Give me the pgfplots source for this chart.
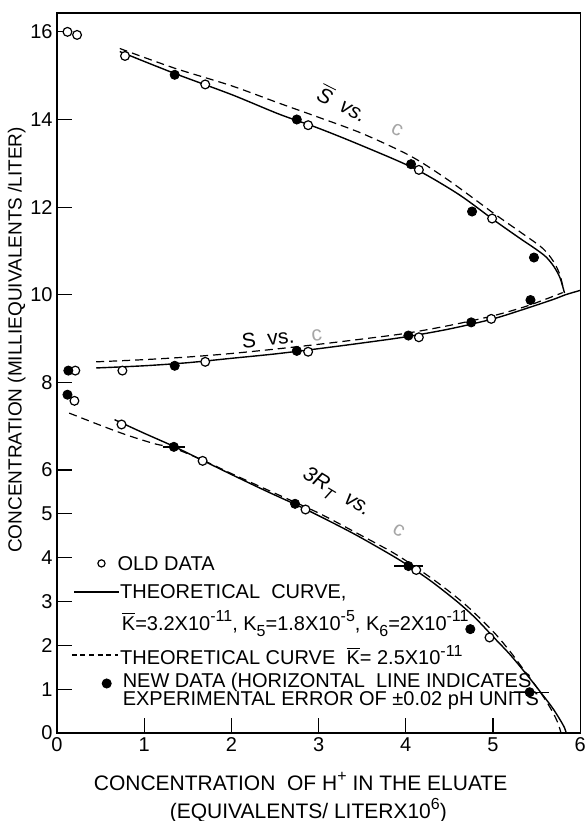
\documentclass[border=0pt]{standalone}
\usepackage{fontspec}
\setmainfont{Liberation Sans}
\usepackage{pgfplots}
\pgfplotsset{compat=1.18}
\newcommand{\Kb}{\ensuremath{\overline{\mbox{K}}}}
\newcommand{\Sb}{\ensuremath{\overline{\mbox{\itshape S}}}}
\newcommand{\up}[1]{\raisebox{0.8ex}{\fontsize{8}{8}\selectfont #1}}
\newcommand{\dn}[1]{\raisebox{-0.55ex}{\fontsize{8}{8}\selectfont #1}}
\begin{document}
\begin{tikzpicture}
\useasboundingbox (-28.5pt,-44pt) rectangle (265.5pt,366.5pt);
\begin{axis}[
  scale only axis, width=261.6pt, height=360pt,
  xmin=0, xmax=6, ymin=0, ymax=16.43,
  xtick={0,1,2,3,4,5,6}, ytick={0,1,2,3,4,5,6,8,10,12,14,16},
  tick align=inside, xtick pos=bottom, ytick pos=left,
  major tick length=7.5pt,
  axis line style={line width=0.6pt},
  tick style={line width=0.6pt, black},
  ticklabel style={font=\fontsize{10}{12}\selectfont},
  /pgf/number format/assume math mode=true,
  yticklabel style={inner sep=1pt, xshift=-1pt},
  xticklabel style={inner sep=1pt, yshift=-1pt},
  xlabel={CONCENTRATION \ OF H\up{+} IN THE ELUATE\\\hspace*{38pt}(EQUIVALENTS/ LITERX10\up{6})},
  xlabel style={align=left, anchor=north west, at={(axis description cs:0.057,0)}, yshift=-16pt, font=\fontsize{10.5}{14}\selectfont},
  ylabel={CONCENTRATION (MILLIEQUIVALENTS /LITER)},
  ylabel style={at={(axis description cs:-0.077,0.546)}, anchor=center, inner sep=0pt, font=\fontsize{9.5}{11}\selectfont},
  clip=false,
  every axis plot/.append style={black},
]
% ---------- upper curve S-bar
\addplot[line width=0.7pt, smooth, tension=0.5] coordinates {
(0.72,15.55)(1.35,15.05)(2.0,14.57)(2.55,14.12)(3.0,13.8)(3.5,13.4)(4.1,12.88)(4.6,12.3)(5.0,11.72)(5.3,11.3)(5.5,11.03)(5.61,10.86)(5.7,10.64)(5.77,10.38)(5.82,10.04)};
\addplot[line width=0.6pt, dash pattern=on 4pt off 2.5pt, smooth, tension=0.5] coordinates {
(0.72,15.62)(1.35,15.17)(2.0,14.77)(2.55,14.37)(3.0,14.05)(3.5,13.68)(4.06,13.16)(4.5,12.6)(5.0,11.87)(5.3,11.45)(5.57,11.06)(5.7,10.74)(5.77,10.44)(5.81,10.1)};
% ---------- middle curve S
\addplot[line width=0.7pt, smooth, tension=0.5] coordinates {
(0.45,8.33)(1.0,8.38)(1.5,8.45)(2.0,8.55)(2.5,8.65)(3.0,8.77)(3.5,8.9)(4.0,9.04)(4.5,9.22)(5.0,9.45)(5.4,9.7)(5.7,9.9)(5.83,10.0)(6.0,10.1)};
\addplot[line width=0.6pt, dash pattern=on 4pt off 2.5pt, smooth, tension=0.5] coordinates {
(0.45,8.47)(1.0,8.52)(1.5,8.58)(2.0,8.66)(2.5,8.76)(3.0,8.87)(3.5,8.99)(4.0,9.12)(4.5,9.3)(5.0,9.52)(5.4,9.75)(5.8,10.05)};
% ---------- lower curve 3R_T
\addplot[line width=0.7pt, smooth, tension=0.5] coordinates {
(0.66,7.15)(1.0,6.84)(1.34,6.54)(1.67,6.22)(2.0,5.9)(2.4,5.52)(2.73,5.22)(3.0,4.96)(3.41,4.54)(3.8,4.1)(4.03,3.82)(4.3,3.45)(4.6,2.98)(4.8,2.62)(5.0,2.2)(5.2,1.78)(5.4,1.3)(5.55,0.92)(5.68,0.58)(5.77,0.3)(5.82,0.12)(5.84,0.0)};
\addplot[line width=0.6pt, dash pattern=on 4pt off 2.5pt, smooth, tension=0.5] coordinates {
(0.14,7.3)(0.5,7.02)(0.8,6.8)(1.12,6.6)(1.34,6.5)(1.7,6.2)(2.0,5.92)(2.5,5.47)(3.0,5.02)(3.45,4.55)(3.85,4.12)(4.1,3.8)(4.4,3.38)(4.7,2.9)(5.0,2.32)(5.2,1.85)(5.35,1.45)(5.5,1.05)(5.61,0.73)(5.7,0.42)(5.75,0.2)(5.78,0.0)};
% ---------- old data (open circles)
\addplot[only marks, mark=*, mark size=2.2pt, mark options={fill=white, line width=0.6pt}] coordinates {
(0.12,16.0)(0.23,15.93)(0.78,15.45)(1.7,14.8)(2.88,13.87)(4.15,12.85)(4.99,11.74)
(0.21,8.27)(0.75,8.27)(1.7,8.47)(2.88,8.7)(4.15,9.03)(4.98,9.45)
(0.2,7.58)(0.74,7.04)(1.67,6.21)(2.85,5.1)(4.12,3.72)(4.96,2.18)};
% ---------- new data (filled circles) with horizontal error bars
\addplot[only marks, mark=*, mark size=2.3pt,
  error bars/.cd, x dir=both, x explicit, error mark=none, error bar style={line width=0.7pt}] coordinates {
(1.35,15.02)(2.75,14.0)(4.06,12.98)(4.76,11.9)(5.47,10.85)
(0.13,8.27)(1.35,8.38)(2.75,8.72)(4.03,9.07)(4.75,9.37)(5.43,9.88)
(0.12,7.72) (1.34,6.53) +- (0.13,0) (2.73,5.23) (4.03,3.81) +- (0.17,0) (4.74,2.37) (5.42,0.93) +- (0.22,0)};
% ---------- curve labels
\node[rotate=-27, inner sep=0pt, font=\fontsize{10.5}{12}\selectfont\itshape] at (axis cs:3.28,14.38) {\Sb\ \ vs.};
\node[rotate=-27, inner sep=0pt, font=\fontsize{10.5}{12}\selectfont, text=black!35] at (axis cs:3.9,13.76) {c};
\node[rotate=6, inner sep=0pt, font=\fontsize{10.5}{12}\selectfont] at (axis cs:2.42,9.0) {S \ vs.};
\node[rotate=6, inner sep=0pt, font=\fontsize{10.5}{12}\selectfont, text=black!35] at (axis cs:2.98,9.08) {c};
\node[rotate=-31, inner sep=0pt, font=\fontsize{10.5}{12}\selectfont\itshape] at (axis cs:3.2,5.47) {3R\dn{T} \ vs.};
\node[rotate=-31, inner sep=0pt, font=\fontsize{10.5}{12}\selectfont, text=black!35] at (axis cs:3.92,4.62) {c};
% ---------- legend
\addplot[only marks, mark=*, mark size=1.8pt, mark options={fill=white, line width=0.6pt}] coordinates {(0.51,3.87)};
\addplot[line width=0.7pt] coordinates {(0.2,3.22)(0.71,3.22)};
\addplot[line width=0.6pt, dash pattern=on 2.5pt off 1.8pt] coordinates {(0.17,1.78)(0.7,1.78)};
\addplot[only marks, mark=*, mark size=2.3pt] coordinates {(0.57,1.13)};
\begin{scope}[every node/.style={anchor=west, inner sep=0pt, font=\fontsize{10}{12}\selectfont}]
\node at (axis cs:0.69,3.87) {OLD DATA};
\node at (axis cs:0.72,3.2) {THEORETICAL \ CURVE,};
\node at (axis cs:0.74,2.5) {\Kb=3.2X10\up{-11}, K\dn{5}=1.8X10\up{-5}, K\dn{6}=2X10\up{-11}};
\node at (axis cs:0.72,1.78) {THEORETICAL CURVE \ \Kb= 2.5X10\up{-11}};
\node at (axis cs:0.75,1.15) {NEW DATA (HORIZONTAL \ LINE INDICATES};
\node at (axis cs:0.75,0.74) {EXPERIMENTAL ERROR OF ±0.02 pH UNITS};
\end{scope}
\end{axis}
\end{tikzpicture}
\end{document}
